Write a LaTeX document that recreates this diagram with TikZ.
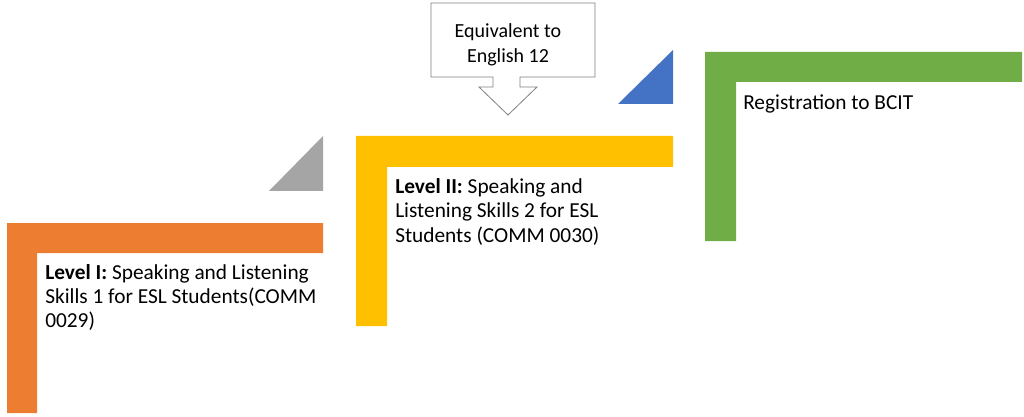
\documentclass[tikz,border=0pt]{standalone}
\usepackage{fontspec}
\setmainfont{Carlito}
\usetikzlibrary{positioning}
\usetikzlibrary{calc}
\definecolor{levelone}{HTML}{ED7D31}
\definecolor{leveltwo}{HTML}{FFC000}
\definecolor{levelbcit}{HTML}{70AD47}
\definecolor{markblue}{HTML}{4472C4}
\definecolor{markgray}{HTML}{A5A5A5}
\tikzset{
  stepbar/.style= {
    fill = #1,
    draw = none
  },
  stepmark/.style= {
    fill = #1,
    draw = none
  },
  steplabel/.style= {
    anchor = base west,
    align = left,
    inner sep = 0pt,
    font = \fontsize{16}{18}\selectfont
  },
  calloutline/.style= {
    draw = black!50,
    line width = 0.6pt,
    fill = white
  },
  callouttext/.style= {
    align = center,
    inner sep = 0pt,
    font = \fontsize{15}{19}\selectfont
  }
}

\begin{document}
\begin{tikzpicture}[x={(0.75pt,0)},y={(0,-0.75pt)}]
  \useasboundingbox (0,0) rectangle (1024,417);

  \fill[stepbar=levelone] (7,413) -- (7,223) -- (323,223) -- (323,253) -- (37,253) -- (37,413) -- cycle;
  \fill[stepbar=leveltwo] (356,326) -- (356,136) -- (673,136) -- (673,167) -- (387,167) -- (387,326) -- cycle;
  \fill[stepbar=levelbcit] (705,241) -- (705,52) -- (1022,52) -- (1022,82) -- (736,82) -- (736,241) -- cycle;

  \fill[stepmark=markgray] (323,136) -- (323,191) -- (269,191) -- cycle;
  \fill[stepmark=markblue] (673,50) -- (673,104) -- (618,104) -- cycle;

  \draw[calloutline] (431,3) -- (595,3) -- (595,77) -- (520,77) -- (520,87) -- (537,87)
    -- (508,115) -- (479,87) -- (493,87) -- (493,77) -- (431,77) -- cycle;
  \node[callouttext] (equiv) at (508,45) {Equivalent to\\English 12};

  \node[steplabel] (lvlone) at (45,327) {\textbf{Level I:} Speaking and Listening\\Skills 1 for ESL Students(COMM\\0029)};
  \node[steplabel] (lvltwo) at (395,242) {\textbf{Level II:} Speaking and\\Listening Skills 2 for ESL\\Students (COMM 0030)};
  \node[steplabel] (bcit) at (743,110) {Registration to BCIT};

\end{tikzpicture}
\end{document}
